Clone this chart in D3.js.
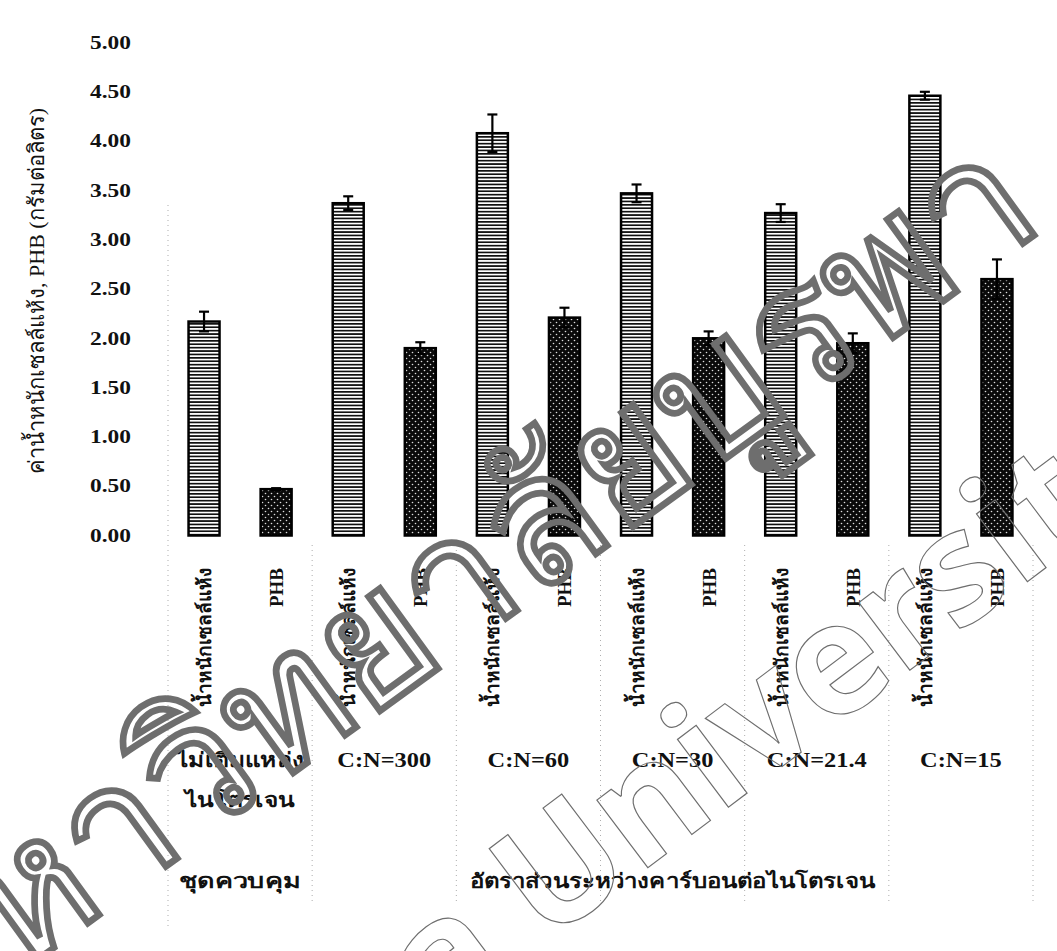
<!DOCTYPE html>
<html>
<head>
<meta charset="utf-8">
<script src="https://cdn.jsdelivr.net/npm/d3@7"></script>
<style>
  html, body { margin: 0; padding: 0; background: #fff; }
  svg { display: block; }
</style>
</head>
<body>
<svg id="chart" width="1057" height="951"></svg>
<script>
// Dry cell weight and PHB (g/L) for the control and each C:N ratio
const barLabels = ["น้ำหนักเซลล์แห้ง", "PHB", "น้ำหนักเซลล์แห้ง", "PHB", "น้ำหนักเซลล์แห้ง", "PHB",
                   "น้ำหนักเซลล์แห้ง", "PHB", "น้ำหนักเซลล์แห้ง", "PHB", "น้ำหนักเซลล์แห้ง", "PHB"];
const barKinds = ["dcw", "phb", "dcw", "phb", "dcw", "phb", "dcw", "phb", "dcw", "phb", "dcw", "phb"];
const barValues = [2.17, 0.47, 3.37, 1.90, 4.08, 2.21, 3.47, 2.00, 3.27, 1.95, 4.46, 2.60];
const barErrors = [0.10, 0.01, 0.07, 0.06, 0.19, 0.10, 0.09, 0.07, 0.09, 0.10, 0.04, 0.20];
const groupLabels = [["ไม่เติมแหล่ง", "ไนโตรเจน"], ["C:N=300"], ["C:N=60"], ["C:N=30"], ["C:N=21.4"], ["C:N=15"]];
const yTicks = [0, 0.5, 1, 1.5, 2, 2.5, 3, 3.5, 4, 4.5, 5];
const yTitle = "ค่าน้ำหนักเซลล์แห้ง, PHB (กรัมต่อลิตร)";
const controlLabel = "ชุดควบคุม";
const ratioLabel = "อัตราส่วนระหว่างคาร์บอนต่อไนโตรเจน";

const SERIF = "'Liberation Serif', 'DejaVu Serif', serif";
const svg = d3.select("#chart");
const defs = svg.append("defs");

// horizontal stripe fill for dry cell weight
const stripe = defs.append("pattern").attr("id", "stripe")
  .attr("patternUnits", "userSpaceOnUse").attr("width", 8).attr("height", 3.4);
stripe.append("rect").attr("width", 8).attr("height", 3.4).attr("fill", "#fff");
stripe.append("rect").attr("y", 0).attr("width", 8).attr("height", 1.7).attr("fill", "#111");

// dotted dark fill for PHB
const dots = defs.append("pattern").attr("id", "dots")
  .attr("patternUnits", "userSpaceOnUse").attr("width", 6).attr("height", 6);
dots.append("rect").attr("width", 6).attr("height", 6).attr("fill", "#0a0a0a");
dots.append("circle").attr("cx", 1.5).attr("cy", 1.5).attr("r", 0.8).attr("fill", "#ddd");
dots.append("circle").attr("cx", 4.5).attr("cy", 4.5).attr("r", 0.8).attr("fill", "#ddd");

const idx = d3.range(barValues.length);
const x = d3.scaleBand().domain(idx).range([168, 1033]).paddingInner(0.57).paddingOuter(0.285);
const y = d3.scaleLinear().domain([0, 5]).range([535.5, 42.5]);

// table column scale: two bars per column
const gx = d3.scaleBand().domain(d3.range(groupLabels.length)).range([168, 1033]);

// faint dotted table rules
const rules = svg.append("g").attr("stroke", "#9a9a9a").attr("stroke-width", 1)
  .attr("stroke-dasharray", "1,4").attr("opacity", 0.8);
rules.append("line").attr("x1", gx.range()[0]).attr("x2", gx.range()[0]).attr("y1", 205).attr("y2", 930);
d3.range(1, groupLabels.length + 1).forEach(i => {
  const xv = gx.range()[0] + gx.step() * i;
  rules.append("line").attr("x1", xv).attr("x2", xv).attr("y1", 545).attr("y2", 905);
});

// y axis (labels only, widened bold serif)
const yAxis = d3.axisLeft(y).tickValues(yTicks).tickFormat(d3.format(".2f")).tickSize(0).tickPadding(0);
const yg = svg.append("g").attr("transform", "translate(131,0)").call(yAxis);
yg.select(".domain").remove();
yg.selectAll(".tick text")
  .attr("font-size", 18).attr("font-weight", "bold").attr("fill", "#111")
  .attr("font-family", SERIF).attr("transform", "scale(1.3,1)").attr("x", 0);

// y axis title
svg.append("text").attr("font-family", SERIF)
  .attr("transform", `translate(44,${(y(0) + y(5)) / 2 + 2}) rotate(-90)`)
  .attr("text-anchor", "middle").attr("font-size", 22).attr("fill", "#111")
  .text(yTitle);

// bars
svg.append("g").selectAll("rect").data(idx).join("rect")
  .attr("x", i => x(i)).attr("width", x.bandwidth())
  .attr("y", i => y(barValues[i])).attr("height", i => y(0) - y(barValues[i]))
  .attr("fill", i => barKinds[i] === "dcw" ? "url(#stripe)" : "url(#dots)")
  .attr("stroke", "#000").attr("stroke-width", 2.5);

// error bars
const eg = svg.append("g").attr("stroke", "#000").attr("stroke-width", 2.2);
idx.forEach(i => {
  const cx = x(i) + x.bandwidth() / 2;
  const hi = y(barValues[i] + barErrors[i]), lo = y(barValues[i] - barErrors[i]);
  eg.append("line").attr("x1", cx).attr("x2", cx).attr("y1", hi).attr("y2", lo);
  eg.append("line").attr("x1", cx - 5).attr("x2", cx + 5).attr("y1", hi).attr("y2", hi);
  eg.append("line").attr("x1", cx - 5).attr("x2", cx + 5).attr("y1", lo).attr("y2", lo);
});

// rotated bar labels
svg.append("g").selectAll("text").data(idx).join("text")
  .attr("font-family", SERIF)
  .attr("transform", i => `translate(${x(i) + x.bandwidth() / 2 + 7},568) rotate(-90)`)
  .attr("text-anchor", "end").attr("font-size", 19).attr("font-weight", "bold").attr("fill", "#111")
  .text(i => barLabels[i]);

// horizontally widened bold label
function wideText(cx, cy, str, sx) {
  svg.append("text").attr("font-family", SERIF)
    .attr("transform", `translate(${cx},${cy}) scale(${sx},1)`)
    .attr("text-anchor", "middle").attr("font-size", 20).attr("font-weight", "bold").attr("fill", "#111")
    .text(str);
}

// group labels
groupLabels.forEach((lines, g) => {
  lines.forEach((t, k) => wideText(gx(g) + gx.bandwidth() / 2, 767 + k * 40, t, 1.22));
});

// bottom captions
wideText(gx(0) + gx.bandwidth() / 2, 888, controlLabel, 1.35);
wideText((gx(1) + gx.range()[1]) / 2, 888, ratioLabel, 1.2);

// outlined watermark
const wm = svg.append("g").attr("fill", "none").attr("stroke", "#6e6e6e").attr("stroke-width", 1.15)
  .attr("font-family", "'Noto Sans', 'DejaVu Sans', sans-serif").attr("font-weight", "bold");
wm.append("text").attr("transform", "translate(1048,225) rotate(-36)")
  .attr("text-anchor", "end").attr("font-size", 178).text("มหาวิทยาลัยบูรพา");
wm.append("text").attr("transform", "translate(585,915) rotate(-37)")
  .attr("text-anchor", "middle").attr("font-size", 155).text("Burapha University");
</script>
</body>
</html>
